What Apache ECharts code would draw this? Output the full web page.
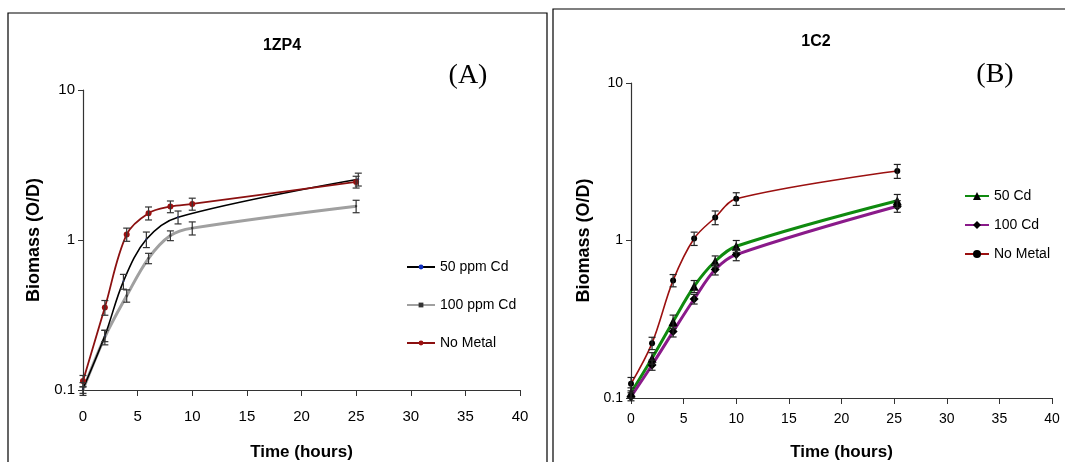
<!DOCTYPE html>
<html>
<head>
<meta charset="utf-8">
<script src="https://cdn.jsdelivr.net/npm/echarts@6/dist/echarts.min.js"></script>
<style>
  html, body { margin: 0; padding: 0; background: #fff; }
  #chart { width: 1065px; height: 462px; }
</style>
</head>
<body>
<div id="chart"></div>
<script>
// Panel A: strain 1ZP4 — times (h), biomass (O/D) and error sizes
const timesA = [0, 2, 4, 6, 8, 10, 25];
const times50A = [0, 2, 3.7, 5.8, 8.7, 25.2];
const nometalA = [0.115, 0.355, 1.09, 1.51, 1.67, 1.74, 2.44];
const nometalAErr = [0.01, 0.04, 0.11, 0.15, 0.15, 0.16, 0.22];
const cd50A = [0.102, 0.23, 0.53, 1.01, 1.42, 2.54];
const cd50AErr = [0.01, 0.02, 0.06, 0.12, 0.14, 0.25];
const cd100A = [0.1, 0.225, 0.425, 0.755, 1.07, 1.2, 1.68];
const cd100AErr = [0.005, 0.025, 0.04, 0.06, 0.08, 0.12, 0.16];

// Panel B: strain 1C2
const timesB = [0, 2, 4, 6, 8, 10, 25.3];
const nometalB = [0.123, 0.223, 0.558, 1.03, 1.4, 1.84, 2.76];
const nometalBErr = [0.012, 0.02, 0.05, 0.1, 0.14, 0.17, 0.28];
const cd50B = [0.108, 0.179, 0.306, 0.512, 0.738, 0.92, 1.79];
const cd50BErr = [0.008, 0.015, 0.03, 0.045, 0.06, 0.08, 0.17];
const cd100B = [0.102, 0.162, 0.264, 0.425, 0.654, 0.814, 1.65];
const cd100BErr = [0.006, 0.012, 0.02, 0.03, 0.05, 0.07, 0.14];

const xTicks = [0, 40, 5];
const yRange = [0.1, 10];

const pairs = (xs, ys) => xs.map((x, i) => [x, ys[i]]);
const bars = (xs, ys, es) => xs.map((x, i) => [x, ys[i] - es[i], ys[i] + es[i]]);

// error bars with short caps
function errorSeries(idx, data, color) {
  return {
    type: 'custom',
    xAxisIndex: idx, yAxisIndex: idx,
    silent: true, z: 5,
    data: data,
    renderItem: function (params, api) {
      const x = api.value(0);
      const lo = api.coord([x, api.value(1)]);
      const hi = api.coord([x, api.value(2)]);
      const w = 3.5;
      const st = { stroke: color, lineWidth: 1.2 };
      return {
        type: 'group',
        children: [
          { type: 'line', shape: { x1: lo[0], y1: lo[1], x2: hi[0], y2: hi[1] }, style: st },
          { type: 'line', shape: { x1: lo[0] - w, y1: lo[1], x2: lo[0] + w, y2: lo[1] }, style: st },
          { type: 'line', shape: { x1: hi[0] - w, y1: hi[1], x2: hi[0] + w, y2: hi[1] }, style: st }
        ]
      };
    }
  };
}

const FONT = 'Liberation Sans, Arial, sans-serif';
const tickFont = { fontFamily: FONT, fontSize: 14, color: '#000' };
const nameFont = { fontFamily: FONT, fontSize: 17, fontWeight: 'bold', color: '#000' };

function xAxis(gi, gap, margin, size) {
  return {
    type: 'value', gridIndex: gi, min: xTicks[0], max: xTicks[1], interval: xTicks[2],
    name: 'Time (hours)', nameLocation: 'middle', nameGap: gap, nameTextStyle: nameFont,
    axisLine: { lineStyle: { color: '#333', width: 1.2 } },
    axisTick: { show: true, length: 6, lineStyle: { color: '#333' } },
    axisLabel: Object.assign({}, tickFont, { margin: margin, fontSize: size }),
    splitLine: { show: false }
  };
}
function yAxis(gi, gap, margin, size) {
  return {
    type: 'log', logBase: 10, gridIndex: gi, min: yRange[0], max: yRange[1],
    name: 'Biomass (O/D)', nameLocation: 'middle', nameGap: gap,
    nameTextStyle: Object.assign({}, nameFont, { fontSize: 18 }),
    axisLine: { show: true, lineStyle: { color: '#333', width: 1.2 } },
    axisTick: { show: true, length: 5, lineStyle: { color: '#333' } },
    axisLabel: Object.assign({}, tickFont, { margin: margin, fontSize: size,
      formatter: v => String(+v.toPrecision(3)) }),
    splitLine: { show: false }
  };
}

const chart = echarts.init(document.getElementById('chart'), null, { renderer: 'canvas' });
chart.setOption({
  animation: false,
  backgroundColor: '#fff',
  title: [
    { text: '1ZP4', left: 277, top: 33, textAlign: 'center',
      textStyle: { fontFamily: FONT, fontSize: 16, fontWeight: 'bold', color: '#000' } },
    { text: '1C2', left: 811, top: 29, textAlign: 'center',
      textStyle: { fontFamily: FONT, fontSize: 16, fontWeight: 'bold', color: '#000' } }
  ],
  graphic: [
    { type: 'rect', shape: { x: 8, y: 13, width: 539, height: 470 }, style: { fill: 'none', stroke: '#000', lineWidth: 1.2 }, silent: true },
    { type: 'rect', shape: { x: 553, y: 9, width: 520, height: 470 }, style: { fill: 'none', stroke: '#000', lineWidth: 1.2 }, silent: true },
    { type: 'text', x: 468, y: 76, style: { text: '(A)', fill: '#000', font: '28px "Liberation Serif", "Times New Roman", serif', align: 'center', verticalAlign: 'middle' } },
    { type: 'text', x: 995, y: 75, style: { text: '(B)', fill: '#000', font: '28px "Liberation Serif", "Times New Roman", serif', align: 'center', verticalAlign: 'middle' } }
  ],
  grid: [
    { left: 83, top: 90, width: 437, height: 300, outerBoundsMode: 'none', containLabel: false },
    { left: 631, top: 83, width: 421, height: 315, outerBoundsMode: 'none', containLabel: false }
  ],
  xAxis: [xAxis(0, 54, 19, 15), xAxis(1, 46, 14, 14)],
  yAxis: [yAxis(0, 40, 8, 15), yAxis(1, 38, 8, 14)],
  legend: [
    { orient: 'vertical', left: 406, top: 260, padding: 0, itemWidth: 28, itemHeight: 6, itemGap: 24,
      textStyle: Object.assign({}, tickFont),
      data: ['50 ppm Cd', '100 ppm Cd', 'No Metal'] },
    { orient: 'vertical', left: 964, top: 189, padding: 0, itemWidth: 24, itemHeight: 10, itemGap: 15,
      textStyle: Object.assign({}, tickFont),
      data: ['50 Cd', '100 Cd', 'No Metal B'], formatter: n => n === 'No Metal B' ? 'No Metal' : n }
  ],
  series: [
    errorSeries(0, bars(timesA, nometalA, nometalAErr), '#333'),
    errorSeries(0, bars(times50A, cd50A, cd50AErr), '#333'),
    errorSeries(0, bars(timesA, cd100A, cd100AErr), '#333'),
    { name: '50 ppm Cd', type: 'line', xAxisIndex: 0, yAxisIndex: 0, smooth: 0.35, z: 3,
      data: pairs(times50A, cd50A), lineStyle: { color: '#000', width: 1.6 },
      itemStyle: { color: '#1030c0' }, symbol: 'circle', symbolSize: 2, color: '#000' },
    { name: '100 ppm Cd', type: 'line', xAxisIndex: 0, yAxisIndex: 0, smooth: 0.35, z: 2,
      data: pairs(timesA, cd100A), lineStyle: { color: '#a0a0a0', width: 3 },
      itemStyle: { color: '#333' }, symbol: 'rect', symbolSize: 2, color: '#a0a0a0' },
    { name: 'No Metal', type: 'line', xAxisIndex: 0, yAxisIndex: 0, smooth: 0.35, z: 4,
      data: pairs(timesA, nometalA), lineStyle: { color: '#8b1010', width: 1.8 },
      itemStyle: { color: '#9b1010' }, symbol: 'circle', symbolSize: 6, color: '#8b1010' },

    errorSeries(1, bars(timesB, nometalB, nometalBErr), '#222'),
    errorSeries(1, bars(timesB, cd50B, cd50BErr), '#222'),
    errorSeries(1, bars(timesB, cd100B, cd100BErr), '#222'),
    { name: '50 Cd', type: 'line', xAxisIndex: 1, yAxisIndex: 1, smooth: 0.35, z: 3,
      data: pairs(timesB, cd50B), lineStyle: { color: '#0f8a0f', width: 3 },
      itemStyle: { color: '#000' }, symbol: 'triangle', symbolSize: 9, color: '#0f8a0f' },
    { name: '100 Cd', type: 'line', xAxisIndex: 1, yAxisIndex: 1, smooth: 0.35, z: 3,
      data: pairs(timesB, cd100B), lineStyle: { color: '#8a1a8a', width: 3 },
      itemStyle: { color: '#000' }, symbol: 'diamond', symbolSize: 9, color: '#8a1a8a' },
    { name: 'No Metal B', type: 'line', xAxisIndex: 1, yAxisIndex: 1, smooth: 0.35, z: 4,
      data: pairs(timesB, nometalB), lineStyle: { color: '#9b1010', width: 1.6 },
      itemStyle: { color: '#000' }, symbol: 'circle', symbolSize: 6, color: '#9b1010' }
  ]
});
</script>
</body>
</html>
